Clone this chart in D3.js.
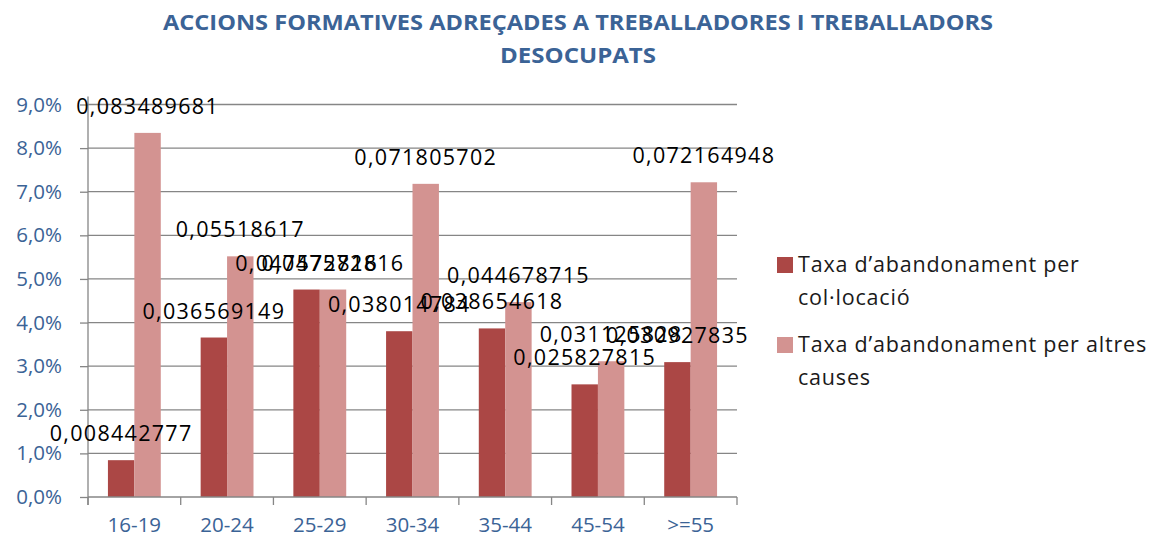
<!DOCTYPE html>
<html><head><meta charset="utf-8">
<script src="https://cdn.jsdelivr.net/npm/d3@7"></script>
<style>
body{margin:0;background:#fff;}
text{font-family:"Open Sans",sans-serif;}
</style></head>
<body><svg id="c" width="1153" height="541"></svg>
<script>
const categories = ["16-19","20-24","25-29","30-34","35-44","45-54",">=55"];
const seriesNames = ["Taxa d\u2019abandonament per col\u00b7locaci\u00f3","Taxa d\u2019abandonament per altres causes"];
const colocacio = [0.008442777,0.036569149,0.047572816,0.038014784,0.038654618,0.025827815,0.030927835];
const altres = [0.083489681,0.05518617,0.047572816,0.071805702,0.044678715,0.031125828,0.072164948];
const yTicks = [0,0.01,0.02,0.03,0.04,0.05,0.06,0.07,0.08,0.09];
const titleLines = ["ACCIONS FORMATIVES ADRE\u00c7ADES A TREBALLADORES I TREBALLADORS","DESOCUPATS"];
const legendLines = [["Taxa d\u2019abandonament per","col\u00b7locaci\u00f3"],["Taxa d\u2019abandonament per altres","causes"]];

(function(){
const colors = ["#ab4745","#d39391"];
const axisColor = "#868686";
const blue = "#3b6396";
const svg = d3.select("#c");
const mLeft = 88, mRight = 737, mTop = 104.5, mBottom = 497;

const x0 = d3.scaleBand().domain(categories).range([mLeft,mRight]).paddingInner(0.43).paddingOuter(0.215);
const x1 = d3.scaleBand().domain([0,1]).range([0,x0.bandwidth()]);
const y = d3.scaleLinear().domain([0,0.09]).range([mBottom,mTop]);
const loc = d3.formatLocale({decimal:",",thousands:".",grouping:[3],currency:["","\u20ac"]});
const fmtPct = loc.format(".1%");

// title
svg.selectAll("text.title").data(titleLines).join("text")
  .attr("class","title")
  .attr("x",578).attr("y",(d,i)=>30+i*33)
  .attr("text-anchor","middle")
  .attr("fill",blue).attr("font-weight","bold").attr("font-size","21px")
  .attr("textLength",(d,i)=>i===0?830:156).attr("lengthAdjust","spacingAndGlyphs")
  .text(d=>d);

// gridlines
svg.append("g").selectAll("line").data(yTicks.filter(d=>d>0)).join("line")
  .attr("x1",mLeft).attr("x2",mRight).attr("y1",d=>y(d)).attr("y2",d=>y(d))
  .attr("stroke",axisColor).attr("stroke-width",1.3);

// y axis
const ya = svg.append("g").attr("transform",`translate(${mLeft},0)`)
  .call(d3.axisLeft(y).tickValues(yTicks).tickFormat(fmtPct).tickSizeInner(8).tickSizeOuter(0).tickPadding(18));
ya.select(".domain").attr("stroke",axisColor).attr("stroke-width",1.3).attr("d",`M0,${mBottom+8}V${mTop-8}`);
ya.selectAll(".tick line").attr("stroke",axisColor).attr("stroke-width",1.3);
ya.selectAll(".tick text").attr("fill",blue).attr("font-size","20.5px").attr("font-family","'Open Sans',sans-serif");

// bars
const data = categories.map((c,i)=>({c, v:[colocacio[i],altres[i]]}));
const groups = svg.append("g").selectAll("g").data(data).join("g")
  .attr("transform",d=>`translate(${x0(d.c)},0)`);
groups.selectAll("rect").data(d=>d.v.map((v,k)=>({v,k}))).join("rect")
  .attr("x",d=>x1(d.k)).attr("width",x1.bandwidth())
  .attr("y",d=>y(d.v)).attr("height",d=>mBottom-y(d.v))
  .attr("fill",d=>colors[d.k]);

// x axis
svg.append("line").attr("x1",mLeft).attr("x2",mRight).attr("y1",mBottom).attr("y2",mBottom)
  .attr("stroke",axisColor).attr("stroke-width",1.3);
const bounds = categories.map(c=>x0(c)-x0.step()*x0.paddingInner()/2).concat([mRight]);
bounds[0]=mLeft;
svg.append("g").selectAll("line").data(bounds).join("line")
  .attr("x1",d=>d).attr("x2",d=>d).attr("y1",mBottom).attr("y2",mBottom+8)
  .attr("stroke",axisColor).attr("stroke-width",1.3);
svg.append("g").selectAll("text").data(categories).join("text")
  .attr("x",d=>x0(d)+x0.bandwidth()/2).attr("y",532)
  .attr("text-anchor","middle").attr("fill",blue).attr("font-size","20.5px")
  .text(d=>d);

// data labels
groups.selectAll("text").data(d=>d.v.map((v,k)=>({v,k}))).join("text")
  .attr("x",d=>x1(d.k)+x1.bandwidth()/2).attr("y",d=>y(d.v)-19)
  .attr("text-anchor","middle").attr("fill","#000").attr("font-size","21.5px")
  .attr("letter-spacing","1.3px")
  .text(d=>String(d.v).replace(".",","));

// legend
const lg = svg.append("g").selectAll("g").data(legendLines).join("g")
  .attr("transform",(d,i)=>`translate(777,${257+i*80})`);
lg.append("rect").attr("width",16).attr("height",16).attr("fill",(d,i)=>colors[i]);
lg.selectAll("text").data(d=>d).join("text")
  .attr("x",21).attr("y",(d,i)=>15+i*33)
  .attr("fill","#1a1a1a").attr("font-size","21.5px").attr("letter-spacing","0.8px")
  .text(d=>d);
})();
</script></body></html>
